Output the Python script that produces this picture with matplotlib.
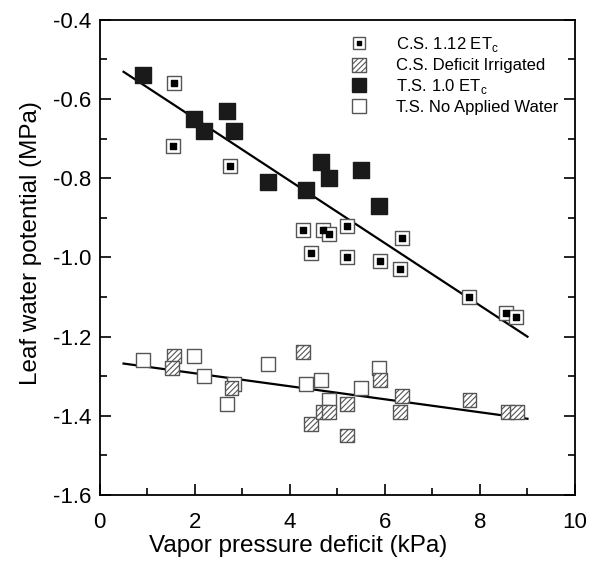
import numpy as np
import matplotlib
matplotlib.use("Agg")
import matplotlib.pyplot as plt
from matplotlib.ticker import MultipleLocator
from matplotlib.lines import Line2D

plt.rcParams['font.family'] = ['Liberation Sans', 'DejaVu Sans']
plt.rcParams['mathtext.fontset'] = 'custom'
plt.rcParams['mathtext.rm'] = 'Liberation Sans'
plt.rcParams['hatch.linewidth'] = 0.8

# data
# C.S. 1.12 ETc
cs_full_x = [1.56, 1.54, 2.75, 4.27, 4.69, 4.82, 5.20, 4.44, 5.20, 6.36, 5.90, 6.32, 7.78, 8.55, 8.75]
cs_full_y = [-0.56, -0.72, -0.77, -0.93, -0.93, -0.94, -0.92, -0.99, -1.00, -0.95, -1.01, -1.03, -1.10, -1.14, -1.15]
# C.S. deficit irrigated
cs_def_x = [1.56, 1.52, 2.77, 4.27, 4.44, 4.69, 4.82, 5.20, 5.20, 5.90, 6.36, 6.32, 7.78, 8.58, 8.78]
cs_def_y = [-1.25, -1.28, -1.33, -1.24, -1.42, -1.39, -1.39, -1.37, -1.45, -1.31, -1.35, -1.39, -1.36, -1.39, -1.39]
# T.S. 1.0 ETc
ts_full_x = [0.91, 1.99, 2.20, 2.68, 2.83, 3.53, 4.33, 4.65, 4.82, 5.50, 5.88]
ts_full_y = [-0.54, -0.65, -0.68, -0.63, -0.68, -0.81, -0.83, -0.76, -0.80, -0.78, -0.87]
# T.S. no applied water
ts_none_x = [0.91, 1.99, 2.20, 2.68, 2.83, 3.53, 4.33, 4.65, 4.82, 5.50, 5.88]
ts_none_y = [-1.26, -1.25, -1.30, -1.37, -1.32, -1.27, -1.32, -1.31, -1.36, -1.33, -1.28]

# regression lines (slope, intercept) over VPD 0.5 - 9
fit_x = [0.5, 9.0]
fit_wet = (-0.0787, -0.492)
fit_dry = (-0.0164, -1.260)

fig = plt.figure(figsize=(5.94, 5.65), dpi=100)
ax = fig.add_axes([0.168, 0.124, 0.800, 0.841])

grey = '#555555'
ms = 110

xs = np.array(fit_x)
ax.plot(xs, fit_wet[0] * xs + fit_wet[1], color='black', lw=1.6, zorder=1)
ax.plot(xs, fit_dry[0] * xs + fit_dry[1], color='black', lw=1.6, zorder=1)

ax.scatter(ts_none_x, ts_none_y, marker='s', s=ms, facecolor='white', edgecolor=grey, linewidth=1.0, zorder=2)
ax.scatter(cs_def_x, cs_def_y, marker='s', s=ms * 0.9, facecolor='white', edgecolor=grey, hatch='//////', linewidth=1.0, zorder=3)
ax.scatter(ts_full_x, ts_full_y, marker='s', s=ms * 1.15, facecolor='#1a1a1a', edgecolor='#1a1a1a', zorder=3)
ax.scatter(cs_full_x, cs_full_y, marker='s', s=ms * 0.9, facecolor='white', edgecolor=grey, linewidth=1.0, zorder=4)
ax.scatter(cs_full_x, cs_full_y, marker='s', s=14, facecolor='black', edgecolor='black', zorder=5)

ax.set_xlim(0, 10)
ax.set_ylim(-1.6, -0.4)
ax.xaxis.set_major_locator(MultipleLocator(2))
ax.xaxis.set_minor_locator(MultipleLocator(1))
ax.yaxis.set_major_locator(MultipleLocator(0.2))
ax.yaxis.set_minor_locator(MultipleLocator(0.1))
ax.yaxis.set_major_formatter(matplotlib.ticker.FormatStrFormatter('%.1f'))
ax.tick_params(which='both', direction='in', top=False, right=True, labelsize=16, width=1.2)
ax.tick_params(which='major', length=8)
ax.tick_params(which='minor', length=5)
ax.tick_params(axis='x', which='major', pad=12)
ax.tick_params(axis='y', which='major', pad=6)
for sp in ax.spines.values():
    sp.set_linewidth(1.3)

ax.set_xlabel('Vapor pressure deficit (kPa)', fontsize=17.5, labelpad=2, x=0.417)
ax.set_ylabel('Leaf water potential (MPa)', fontsize=17.5, labelpad=8, y=0.53)

# legend
h1 = (Line2D([], [], marker='s', ls='', ms=9, mfc='white', mec=grey),
      Line2D([], [], marker='s', ls='', ms=3.5, mfc='black', mec='black'))
h2 = ax.scatter([], [], marker='s', s=ms * 0.9, facecolor='white', edgecolor=grey, hatch='//////')
h3 = Line2D([], [], marker='s', ls='', ms=10, mfc='#1a1a1a', mec='#1a1a1a')
h4 = Line2D([], [], marker='s', ls='', ms=10, mfc='white', mec=grey)
ax.legend([h1, h2, h3, h4],
          [r'C.S. 1.12 ET$_\mathrm{c}$', 'C.S. Deficit Irrigated', r'T.S. 1.0 ET$_\mathrm{c}$', 'T.S. No Applied Water'],
          loc='upper right', bbox_to_anchor=(0.98, 0.983), borderaxespad=0, frameon=False,
          fontsize=12, handletextpad=1.5, labelspacing=0.25, handlelength=1.5)

fig.savefig('out.png', dpi=100)
